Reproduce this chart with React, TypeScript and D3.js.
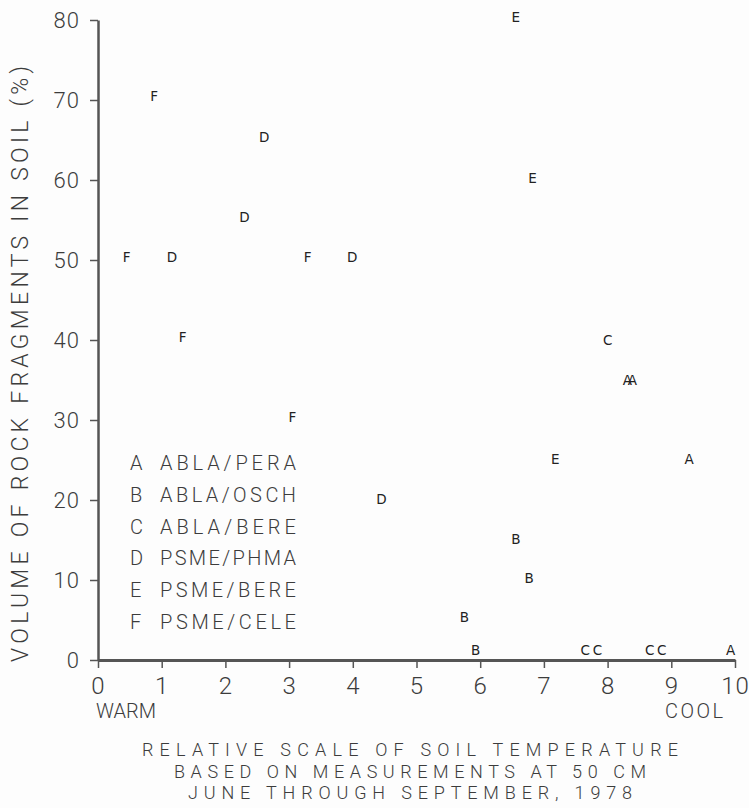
import React, { useEffect, useRef } from "react";
import * as d3 from "d3";

// community types (letter codes + names)
const groupCodes = ["A", "B", "C", "D", "E", "F"];
const groupNames = ["ABLA/PERA", "ABLA/OSCH", "ABLA/BERE", "PSME/PHMA", "PSME/BERE", "PSME/CELE"];

// plotted stands: code, relative soil temperature, rock fragments (%)
const pointCodes = ["F", "D", "D", "F", "D", "F", "D", "F", "F", "D", "E", "E", "E", "C", "A", "A", "A", "B", "B", "B", "B", "C", "C", "C", "C", "A"];
const pointTemp = [0.88, 2.61, 2.3, 0.45, 1.16, 3.29, 3.99, 1.33, 3.05, 4.45, 6.56, 6.82, 7.18, 8.0, 8.31, 8.39, 9.28, 6.56, 6.77, 5.75, 5.93, 7.65, 7.84, 8.66, 8.85, 9.93];
const pointRock = [70.5, 65.3, 55.3, 50.4, 50.4, 50.4, 50.4, 40.4, 30.3, 20.1, 80.3, 60.2, 25.1, 40.0, 35.0, 35.0, 25.1, 15.1, 10.2, 5.3, 1.25, 1.25, 1.25, 1.25, 1.25, 1.25];

const xTicks = [0, 1, 2, 3, 4, 5, 6, 7, 8, 9, 10];
const yTicks = [0, 10, 20, 30, 40, 50, 60, 70, 80];

const yTitle = "VOLUME OF ROCK FRAGMENTS IN SOIL (%)";
const xTitleLines = [
    "RELATIVE SCALE OF SOIL TEMPERATURE",
    "BASED ON MEASUREMENTS AT 50 CM",
    "JUNE THROUGH SEPTEMBER, 1978",
];

const FONT = "Roboto, 'DejaVu Sans', sans-serif";
const INK = "#3c3c3c";

const App = () => {
    const ref = useRef<SVGSVGElement | null>(null);

    useEffect(() => {
        const W = 749, H = 808;
        const svg = d3.select(ref.current);
        svg.selectAll("*").remove();

        svg.append("rect").attr("width", W).attr("height", H).attr("fill", "#fdfdfd");

        const x = d3.scaleLinear().domain([0, 10]).range([98, 735]);
        const y = d3.scaleLinear().domain([0, 80]).range([660, 20]);

        // y axis
        const gy = svg.append("g")
            .attr("transform", `translate(${x(0)},0)`)
            .call(d3.axisLeft(y).tickValues(yTicks).tickSizeOuter(0).tickSizeInner(8).tickPadding(10));
        gy.select(".domain").attr("stroke", "#555").attr("stroke-width", 2.5);
        gy.selectAll(".tick line").attr("stroke", "#555").attr("stroke-width", 1.5);
        gy.selectAll(".tick text")
            .attr("font-family", FONT).attr("font-weight", 300).attr("font-size", 22)
            .attr("fill", INK).attr("dy", "0.36em").attr("letter-spacing", 1);

        // x axis
        const gx = svg.append("g")
            .attr("transform", `translate(0,${y(0)})`)
            .call(d3.axisBottom(x).tickValues(xTicks).tickSizeOuter(0).tickSizeInner(8).tickPadding(9));
        gx.select(".domain").attr("stroke", "#555").attr("stroke-width", 3);
        gx.selectAll(".tick line").attr("stroke", "#555").attr("stroke-width", 1.5);
        gx.selectAll(".tick text")
            .attr("font-family", FONT).attr("font-weight", 300).attr("font-size", 24)
            .attr("fill", INK).attr("letter-spacing", 1);

        // WARM / COOL
        svg.append("text").text("WARM")
            .attr("x", x(0) - 2).attr("y", 711).attr("dy", "0.36em")
            .attr("font-family", FONT).attr("font-weight", 300).attr("font-size", 20)
            .attr("fill", INK).attr("textLength", 60).attr("lengthAdjust", "spacing");
        svg.append("text").text("COOL")
            .attr("x", x(10) - 12).attr("y", 711).attr("dy", "0.36em").attr("text-anchor", "end")
            .attr("font-family", FONT).attr("font-weight", 300).attr("font-size", 20)
            .attr("fill", INK).attr("textLength", 58).attr("lengthAdjust", "spacing");

        // x title (three lines)
        const lineWidths = [536, 472, 444];
        const lineY = [749.5, 771.5, 793];
        xTitleLines.forEach((t, i) => {
            svg.append("text").text(t)
                .attr("x", 410).attr("y", lineY[i]).attr("dy", "0.36em").attr("text-anchor", "middle")
                .attr("font-family", FONT).attr("font-weight", 300).attr("font-size", 18)
                .attr("fill", INK).attr("textLength", lineWidths[i]).attr("lengthAdjust", "spacing");
        });

        // y title
        svg.append("text").text(yTitle)
            .attr("transform", `translate(20,364) rotate(-90)`)
            .attr("text-anchor", "middle").attr("dy", "0.36em")
            .attr("font-family", FONT).attr("font-weight", 300).attr("font-size", 23)
            .attr("fill", INK).attr("textLength", 596).attr("lengthAdjust", "spacing");

        // legend
        const lg = svg.append("g").attr("transform", "translate(130,462.7)");
        groupCodes.forEach((c, i) => {
            const row = lg.append("g").attr("transform", `translate(0,${i * 31.8})`);
            row.append("text").text(c)
                .attr("x", 0).attr("dy", "0.36em")
                .attr("font-family", FONT).attr("font-weight", 300).attr("font-size", 20).attr("fill", INK);
            row.append("text").text(groupNames[i])
                .attr("x", 30).attr("dy", "0.36em")
                .attr("font-family", FONT).attr("font-weight", 300).attr("font-size", 20).attr("fill", INK)
                .attr("textLength", 136).attr("lengthAdjust", "spacing");
        });

        // points drawn as their letter codes
        const pts = pointCodes.map((c, i) => ({ c, t: pointTemp[i], r: pointRock[i] }));
        svg.append("g").selectAll("text")
            .data(pts)
            .enter().append("text")
            .text(d => d.c)
            .attr("x", d => x(d.t))
            .attr("y", d => y(d.r))
            .attr("dy", "0.36em")
            .attr("text-anchor", "middle")
            .attr("font-family", "'DejaVu Sans', sans-serif")
            .attr("font-size", 13.5)
            .attr("fill", "#222");
    }, []);

    return (
        <div style={{ position: "absolute", left: 0, top: 0 }}>
            <svg ref={ref} width={749} height={808} style={{ display: "block" }} />
        </div>
    );
};

export default App;
